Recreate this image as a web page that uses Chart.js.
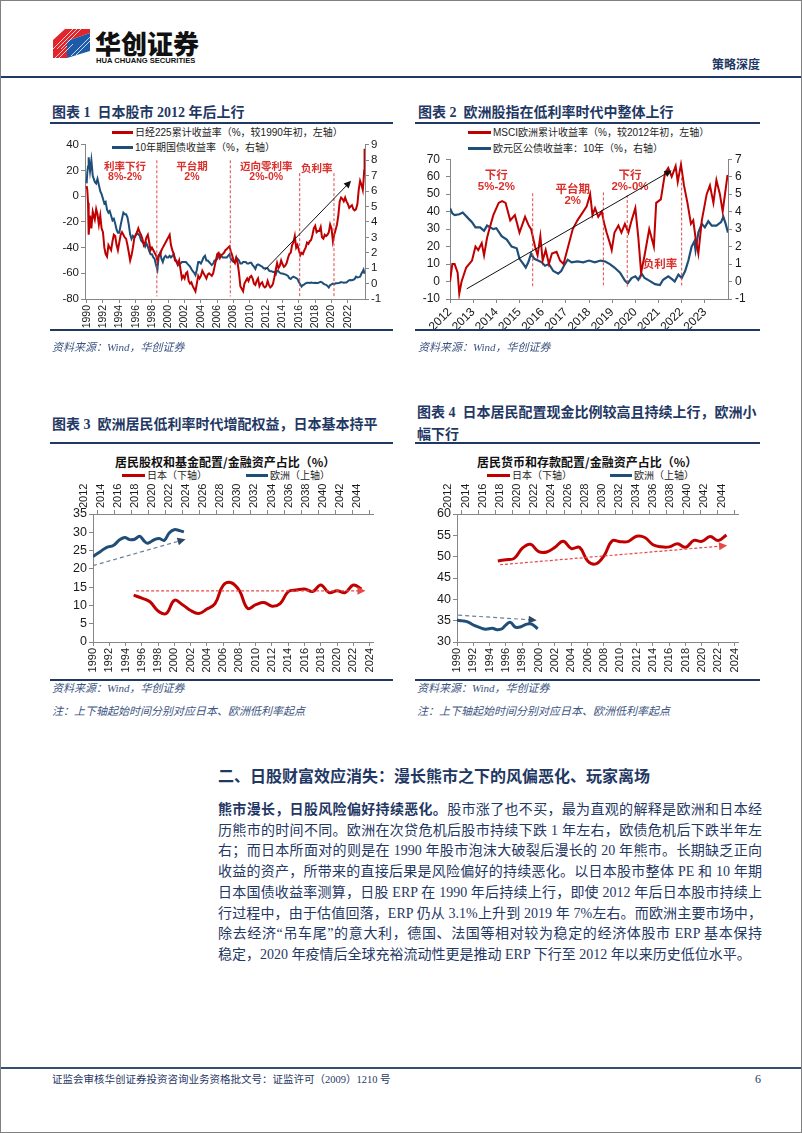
<!DOCTYPE html>
<html>
<head>
<meta charset="utf-8">
<script src="https://cdn.jsdelivr.net/npm/chart.js@4.4.1/dist/chart.umd.min.js"></script>
<style>
html, body { margin: 0; padding: 0; background: #fff; }
#page { position: relative; width: 802px; height: 1133px; overflow: hidden; background: #fff;
  font-family: "Liberation Serif", "Noto Sans CJK SC", serif; color: #1f3864; }
#frame { position: absolute; left: 0; top: 0; width: 800px; height: 1131px; border: 1px solid #808080; }
.abs { position: absolute; white-space: nowrap; }
.rule { position: absolute; background: #1f3864; }
.ttl { position: absolute; white-space: nowrap; font-weight: bold; font-size: 14px; line-height: 18px; color: #1f3864; }
.src { position: absolute; white-space: nowrap; font-style: italic; font-size: 11px; line-height: 14px; color: #3d5582; }
.lg { position: absolute; white-space: nowrap; font-family: "Liberation Sans", "Noto Sans CJK SC", sans-serif; font-size: 10px; line-height: 14px; color: #222; }
.lg i { display: inline-block; width: 21px; height: 3px; vertical-align: middle; margin-right: 2px; position: relative; top: -1px; }
.ctitle { position: absolute; white-space: nowrap; font-family: "Noto Sans CJK SC", sans-serif; font-weight: bold; font-size: 12px; line-height: 16px; color: #111; }
canvas { position: absolute; }
.para { position: absolute; left: 218px; width: 544px; font-size: 14px; line-height: 20px; color: #1f3864;
  white-space: nowrap; text-align: justify; text-align-last: justify; }
.para.last { text-align: left; text-align-last: left; }
</style>
</head>
<body>
<div id="page">
  <div id="frame"></div>

  <!-- header -->
  <svg class="abs" style="left:53px;top:29px" width="38" height="30" viewBox="0 0 38 30">
    <polygon points="0,11 12,0 37,0 37,4 14,12 14,29 0,29" fill="#e0262c"/>
    <polygon points="14,12 37,4 37,22 14,29" fill="#1d5aa8"/>
    <g stroke="#fff" stroke-width="0.9" opacity="0.85">
      <line x1="2" y1="29" x2="14" y2="17"/><line x1="6" y1="29" x2="20" y2="15"/>
      <line x1="0" y1="20" x2="20" y2="0"/><line x1="4" y1="20" x2="24" y2="0"/>
      <line x1="8" y1="20" x2="28" y2="0"/><line x1="18" y1="27" x2="37" y2="8"/>
      <line x1="23" y1="26" x2="37" y2="12"/>
    </g>
  </svg>
  <div class="abs" style="left:95px;top:29px;font-family:'Noto Sans CJK SC',sans-serif;font-weight:900;font-size:26px;line-height:28px;color:#111;">华创证券</div>
  <div class="abs" style="left:96px;top:56px;font-family:'Liberation Sans',sans-serif;font-weight:bold;font-size:7.6px;line-height:9px;color:#111;">HUA CHUANG SECURITIES</div>
  <div class="abs" style="left:712px;top:56px;font-family:'Noto Sans CJK SC',sans-serif;font-weight:bold;font-size:12px;line-height:16px;color:#1f3864;">策略深度</div>
  <div class="rule" style="left:1px;top:76px;width:800px;height:2px;"></div>

  <!-- chart 1 -->
  <div class="ttl" style="left:52px;top:104px">图表 1&nbsp;&nbsp;日本股市 2012 年后上行</div>
  <div class="rule" style="left:50px;top:122px;width:343px;height:1.5px;"></div>
  <div class="lg" style="left:112px;top:126px"><i style="background:#c00000"></i>日经225累计收益率（%，较1990年初，左轴）</div>
  <div class="lg" style="left:112px;top:141px"><i style="background:#1f4e79"></i>10年期国债收益率（%，右轴）</div>
  <canvas id="c1" width="350" height="198" style="left:40px;top:136px"></canvas>
  <div class="rule" style="left:50px;top:329px;width:343px;height:1.5px;"></div>
  <div class="src" style="left:52px;top:340px">资料来源：Wind，华创证券</div>

  <!-- chart 2 -->
  <div class="ttl" style="left:418px;top:104px">图表 2&nbsp;&nbsp;欧洲股指在低利率时代中整体上行</div>
  <div class="rule" style="left:415px;top:122px;width:345px;height:1.5px;"></div>
  <div class="lg" style="left:468px;top:126px"><i style="background:#c00000;width:23px"></i>MSCI欧洲累计收益率（%，较2012年初，左轴）</div>
  <div class="lg" style="left:468px;top:142px"><i style="background:#1f4e79;width:23px"></i>欧元区公债收益率：10年（%，右轴）</div>
  <canvas id="c2" width="350" height="190" style="left:405px;top:146px"></canvas>
  <div class="rule" style="left:415px;top:329px;width:345px;height:1.5px;"></div>
  <div class="src" style="left:418px;top:340px">资料来源：Wind，华创证券</div>

  <!-- chart 3 -->
  <div class="ttl" style="left:52px;top:416px">图表 3&nbsp;&nbsp;欧洲居民低利率时代增配权益，日本基本持平</div>
  <div class="rule" style="left:50px;top:442px;width:343px;height:1.5px;"></div>
  <div class="ctitle" style="left:115px;top:454px">居民股权和基金配置/金融资产占比（%）</div>
  <div class="lg" style="left:122px;top:469px"><i style="background:#c00000;width:23px"></i>日本（下轴）</div>
  <div class="lg" style="left:246px;top:469px"><i style="background:#1f4e79;width:22px"></i>欧洲（上轴）</div>
  <canvas id="c3" width="345" height="195" style="left:40px;top:480px"></canvas>
  <div class="rule" style="left:50px;top:679px;width:343px;height:1.5px;"></div>
  <div class="src" style="left:52px;top:681px">资料来源：Wind，华创证券</div>
  <div class="src" style="left:52px;top:704px">注：上下轴起始时间分别对应日本、欧洲低利率起点</div>

  <!-- chart 4 -->
  <div class="ttl" style="left:417px;top:404px">图表 4&nbsp;&nbsp;日本居民配置现金比例较高且持续上行，欧洲小</div>
  <div class="ttl" style="left:417px;top:426px">幅下行</div>
  <div class="rule" style="left:415px;top:442px;width:345px;height:1.5px;"></div>
  <div class="ctitle" style="left:477px;top:454px">居民货币和存款配置/金融资产占比（%）</div>
  <div class="lg" style="left:487px;top:469px"><i style="background:#c00000;width:23px"></i>日本（下轴）</div>
  <div class="lg" style="left:610px;top:469px"><i style="background:#1f4e79;width:22px"></i>欧洲（上轴）</div>
  <canvas id="c4" width="345" height="195" style="left:405px;top:480px"></canvas>
  <div class="rule" style="left:415px;top:679px;width:345px;height:1.5px;"></div>
  <div class="src" style="left:417px;top:681px">资料来源：Wind，华创证券</div>
  <div class="src" style="left:417px;top:704px">注：上下轴起始时间分别对应日本、欧洲低利率起点</div>

  <!-- body text -->
  <div class="abs" style="left:218px;top:767px;font-weight:bold;font-size:16px;line-height:20px;color:#1f3864;">二、日股财富效应消失：漫长熊市之下的风偏恶化、玩家离场</div>
  <div class="para" style="top:800px"><b>熊市漫长，日股风险偏好持续恶化。</b>股市涨了也不买，最为直观的解释是欧洲和日本经</div>
  <div class="para" style="top:820.7px">历熊市的时间不同。欧洲在次贷危机后股市持续下跌 1 年左右，欧债危机后下跌半年左</div>
  <div class="para" style="top:841.4px">右；而日本所面对的则是在 1990 年股市泡沫大破裂后漫长的 20 年熊市。长期缺乏正向</div>
  <div class="para" style="top:862.1px">收益的资产，所带来的直接后果是风险偏好的持续恶化。以日本股市整体 PE 和 10 年期</div>
  <div class="para" style="top:882.8px">日本国债收益率测算，日股 ERP 在 1990 年后持续上行，即使 2012 年后日本股市持续上</div>
  <div class="para" style="top:903.5px">行过程中，由于估值回落，ERP 仍从 3.1%上升到 2019 年 7%左右。而欧洲主要市场中，</div>
  <div class="para" style="top:924.2px">除去经济“吊车尾”的意大利，德国、法国等相对较为稳定的经济体股市 ERP 基本保持</div>
  <div class="para last" style="top:944.9px">稳定，2020 年疫情后全球充裕流动性更是推动 ERP 下行至 2012 年以来历史低位水平。</div>

  <!-- footer -->
  <div class="rule" style="left:1px;top:1067px;width:800px;height:2px;background:#34506f"></div>
  <div class="abs" style="left:52px;top:1073px;font-size:10.5px;line-height:14px;color:#1f3864;">证监会审核华创证券投资咨询业务资格批文号：证监许可（2009）1210 号</div>
  <div class="abs" style="left:755px;top:1072px;font-size:12px;line-height:14px;color:#1f3864;">6</div>
</div>

<script>
// ---------- chart 1: Nikkei cumulative return vs JGB 10y ----------
const C1_YEARS = [
  1990.00, 1990.08, 1990.17, 1990.25, 1990.42, 1990.58, 1990.75, 1991.00, 1991.17, 1991.33, 1991.50, 1991.67, 1991.83,
  1992.00, 1992.17, 1992.33, 1992.50, 1992.67, 1992.83, 1993.00, 1993.17, 1993.33, 1993.50, 1993.67, 1993.83,
  1994.00, 1994.17, 1994.33, 1994.50, 1994.67, 1994.83, 1995.00, 1995.17, 1995.33, 1995.50, 1995.67, 1995.83,
  1996.00, 1996.17, 1996.33, 1996.50, 1996.67, 1996.83, 1997.00, 1997.17, 1997.33, 1997.50, 1997.67, 1997.83,
  1998.00, 1998.17, 1998.33, 1998.50, 1998.67, 1998.83, 1999.00, 1999.17, 1999.33, 1999.50, 1999.67, 1999.83,
  2000.00, 2000.17, 2000.33, 2000.50, 2000.67, 2000.83, 2001.00, 2001.17, 2001.33, 2001.50, 2001.67, 2001.83,
  2002.00, 2002.17, 2002.33, 2002.50, 2002.67, 2002.83, 2003.00, 2003.17, 2003.33, 2003.50, 2003.67, 2003.83,
  2004.00, 2004.17, 2004.33, 2004.50, 2004.67, 2004.83, 2005.00, 2005.17, 2005.33, 2005.50, 2005.67, 2005.83,
  2006.00, 2006.17, 2006.33, 2006.50, 2006.67, 2006.83, 2007.00, 2007.17, 2007.33, 2007.50, 2007.67, 2007.83,
  2008.00, 2008.17, 2008.33, 2008.50, 2008.67, 2008.83, 2009.00, 2009.17, 2009.33, 2009.50, 2009.67, 2009.83,
  2010.00, 2010.17, 2010.33, 2010.50, 2010.67, 2010.83, 2011.00, 2011.17, 2011.33, 2011.50, 2011.67, 2011.83,
  2012.00, 2012.17, 2012.33, 2012.50, 2012.67, 2012.83, 2013.00, 2013.17, 2013.33, 2013.50, 2013.67, 2013.83,
  2014.00, 2014.17, 2014.33, 2014.50, 2014.67, 2014.83, 2015.00, 2015.17, 2015.33, 2015.50, 2015.67, 2015.83,
  2016.00, 2016.17, 2016.33, 2016.50, 2016.67, 2016.83, 2017.00, 2017.17, 2017.33, 2017.50, 2017.67, 2017.83,
  2018.00, 2018.17, 2018.33, 2018.50, 2018.67, 2018.83, 2019.00, 2019.17, 2019.33, 2019.50, 2019.67, 2019.83,
  2020.00, 2020.17, 2020.33, 2020.50, 2020.67, 2020.83, 2021.00, 2021.17, 2021.33, 2021.50, 2021.67, 2021.83,
  2022.00, 2022.17, 2022.33, 2022.50, 2022.67, 2022.83, 2023.00, 2023.17, 2023.33, 2023.50, 2023.67, 2023.83,
  2023.92, 2024.00, 2024.05
];
const C1_NIKKEI = [
  8, 5, -5, -30, -15, -25, -12, -18, -10, -14, -22, -15, -25,
  -28, -40, -45, -47, -38, -40, -42, -35, -30, -31, -38, -42,
  -36, -30, -28, -30, -32, -33, -38, -44, -50, -46, -40, -33,
  -30, -28, -25, -28, -30, -33, -38, -36, -32, -30, -36, -42,
  -40, -42, -44, -46, -50, -46, -46, -42, -40, -38, -36, -34,
  -32, -30, -38, -42, -45, -50, -51, -53, -50, -57, -64, -62,
  -64, -60, -59, -66, -68, -67, -70, -72, -74, -68, -62, -64,
  -62, -58, -60, -62, -64, -61, -60, -61, -62, -60, -55, -50,
  -45, -44, -48, -46, -45, -44, -42, -41, -40, -39, -43, -46,
  -50, -52, -48, -52, -60, -70, -72, -74, -68, -66, -64, -66,
  -63, -62, -64, -68, -69, -66, -64, -70, -68, -67, -70, -71,
  -70, -66, -69, -71, -70, -68, -63, -57, -52, -56, -54, -50,
  -53, -55, -54, -52, -48, -45, -44, -38, -36, -31, -40, -38,
  -42, -46, -44, -45, -42, -40, -36, -37, -35, -34, -30, -25,
  -23, -28, -27, -27, -24, -32, -33, -30, -31, -30, -28, -22,
  -25, -35, -30, -26, -22, -15, -4, -1, -2, -4, -1, -4,
  -6, -9, -8, -7, -10, -11, -10, -6, 5, 12, 9, 5,
  12, 20, 37
];
const C1_JGB = [
  6.5, 7.2, 7.6, 8.2, 7.3, 8.0, 7.0, 6.6, 6.5, 6.8, 6.4, 6.0, 5.8,
  5.5, 5.2, 5.3, 4.8, 4.6, 4.7, 4.4, 4.1, 4.2, 3.9, 3.5, 3.3,
  3.3, 3.8, 4.2, 4.6, 4.5, 4.5, 4.3, 3.8, 3.2, 2.9, 3.1, 3.0,
  3.1, 3.3, 3.2, 3.1, 2.8, 2.7, 2.6, 2.4, 2.6, 2.4, 2.1, 1.9,
  1.9, 1.7, 1.6, 1.2, 0.9, 1.8, 2.0, 1.6, 1.4, 1.7, 1.8, 1.7,
  1.7, 1.8, 1.7, 1.8, 1.9, 1.6, 1.5, 1.2, 1.3, 1.3, 1.4, 1.4,
  1.4, 1.4, 1.3, 1.2, 1.1, 0.95, 0.8, 0.7, 0.55, 0.9, 1.4, 1.4,
  1.3, 1.5, 1.7, 1.8, 1.5, 1.5, 1.4, 1.3, 1.2, 1.3, 1.5, 1.5,
  1.6, 1.8, 1.9, 1.8, 1.7, 1.7, 1.7, 1.7, 1.8, 1.9, 1.6, 1.5,
  1.4, 1.4, 1.7, 1.6, 1.5, 1.3, 1.3, 1.4, 1.4, 1.4, 1.3, 1.3,
  1.35, 1.35, 1.2, 1.1, 0.95, 1.2, 1.25, 1.2, 1.15, 1.1, 1.0, 1.0,
  1.0, 1.0, 0.85, 0.8, 0.8, 0.75, 0.75, 0.6, 0.85, 0.8, 0.7, 0.65,
  0.65, 0.62, 0.6, 0.55, 0.5, 0.35, 0.3, 0.4, 0.45, 0.4, 0.35, 0.3,
  0.1, -0.05, -0.2, -0.1, -0.05, 0.02, 0.05, 0.06, 0.04, 0.07, 0.05, 0.04,
  0.06, 0.04, 0.04, 0.08, 0.12, 0.08, 0.0, -0.05, -0.08, -0.15, -0.25, -0.1,
  -0.05, 0.0, -0.03, 0.02, 0.02, 0.03, 0.05, 0.1, 0.08, 0.05, 0.07, 0.07,
  0.15, 0.22, 0.23, 0.22, 0.25, 0.3, 0.45, 0.4, 0.42, 0.45, 0.65, 0.8,
  0.9, 0.7, 0.8
];
const C1_XTICKS = [1990, 1992, 1994, 1996, 1998, 2000, 2002, 2004, 2006, 2008, 2010, 2012, 2014, 2016, 2018, 2020, 2022];
const C1_PHASE_X = [1998.6, 2007.6, 2016.1, 2020.3];
const C1_PHASE_TOP = [28, 28, 18, 18];
const C1_PHASE_TEXT = [['利率下行', '8%-2%'], ['平台期', '2%'], ['迈向零利率', '2%-0%'], ['负利率']];
const C1_PHASE_TEXT_X = [1994.7, 2002.9, 2012.0, 2018.2];
const C1_PHASE_TEXT_Y = [23, 23, 23, 21];
const C1_ARROW = [[2011.8, -57.6], [2022.4, 12]];

// ---------- chart 2: MSCI Europe vs euro area 10y ----------
const C2_MSCI_YEARS = [
  2012.0, 2012.1, 2012.2, 2012.33, 2012.4, 2012.5, 2012.7, 2012.95,
  2013.1, 2013.22, 2013.37, 2013.47, 2013.6, 2013.7, 2013.87,
  2014.1, 2014.25, 2014.4, 2014.6, 2014.8,
  2015.0, 2015.24, 2015.4, 2015.5, 2015.67, 2015.78, 2015.9,
  2016.0, 2016.13, 2016.27, 2016.4, 2016.6, 2016.75, 2016.9,
  2017.1, 2017.3, 2017.5, 2017.75, 2017.9,
  2018.05, 2018.15, 2018.26, 2018.4, 2018.55, 2018.66, 2018.76, 2018.9, 2018.98,
  2019.1, 2019.27, 2019.4, 2019.55, 2019.7, 2019.84,
  2020.0, 2020.13, 2020.25, 2020.4, 2020.6, 2020.8, 2020.9,
  2021.1, 2021.28, 2021.42, 2021.57, 2021.74, 2021.83, 2021.97,
  2022.1, 2022.25, 2022.4, 2022.5, 2022.6, 2022.72, 2022.87,
  2023.08, 2023.22, 2023.37, 2023.5, 2023.65, 2023.77, 2023.87, 2023.98
];
const C2_MSCI = [
  0, 10, 10, 5, -7, 0, 8, 12,
  20, 18, 22, 15, 25, 30, 38,
  45, 46, 45, 35, 38,
  28, 37, 32, 30, 20, 15, 26,
  12, 18, 10, 16, 17, 12, 10,
  20, 30, 35, 40, 43,
  50, 38, 42, 37, 40, 33, 28, 22, 18,
  28, 32, 28, 33, 28, 35,
  42, 25, 5, 15, 30, 20, 45,
  47, 62, 65, 60, 66, 57, 67,
  55, 45, 33, 35, 25, 16, 35,
  50, 55, 45, 58, 50, 40, 50, 61
];
const C2_BUND_YEARS = [
  2012.0, 2012.1, 2012.2, 2012.4, 2012.55, 2012.8, 2012.95,
  2013.1, 2013.3, 2013.47, 2013.6, 2013.87,
  2014.0, 2014.23, 2014.45, 2014.66, 2014.88,
  2015.0, 2015.17, 2015.27, 2015.38, 2015.5, 2015.64, 2015.8, 2015.96,
  2016.1, 2016.27, 2016.46, 2016.67, 2016.8, 2016.96,
  2017.08, 2017.25, 2017.5, 2017.75,
  2018.0, 2018.25, 2018.5, 2018.7, 2018.9,
  2019.1, 2019.34, 2019.55, 2019.67, 2019.84,
  2020.0, 2020.13, 2020.27, 2020.4, 2020.6, 2020.85,
  2021.06, 2021.2, 2021.42, 2021.57, 2021.7, 2021.86,
  2022.0, 2022.15, 2022.29, 2022.43, 2022.55, 2022.6, 2022.72, 2022.87,
  2023.0, 2023.15, 2023.3, 2023.5, 2023.7, 2023.8, 2023.9, 2024.0
];
const C2_BUND = [
  4.2, 3.9, 3.8, 3.85, 3.95, 3.6, 3.4,
  3.1, 3.1, 2.9, 3.2, 3.0,
  3.05, 2.6, 2.4, 2.0, 1.9,
  1.3, 1.0, 0.8, 1.1, 1.6, 1.3, 1.2, 1.1,
  0.9, 1.0, 0.6, 0.45, 0.6, 1.0,
  1.25, 1.1, 1.15, 1.1,
  1.2, 1.1, 1.2, 1.15, 1.0,
  0.8, 0.5, 0.05, -0.1, 0.2,
  0.3, 0.1, 0.45, 0.2, 0.05, -0.15,
  -0.2, 0.1, 0.3, 0.15, 0.0, 0.4,
  0.2, 0.6, 1.2, 2.0, 2.3, 1.8, 2.8, 3.3,
  3.1, 3.45, 3.2, 3.2, 3.4, 3.7, 3.3, 2.8
];
const C2_XTICKS = [2012, 2013, 2014, 2015, 2016, 2017, 2018, 2019, 2020, 2021, 2022, 2023];
const C2_PHASE_X = [2015.57, 2018.62, 2019.65, 2022.0];
const C2_PHASE_TOP = [50.5, 51, 49.5, 59.5];
const C2_PHASE_TEXT = [['下行', '5%-2%'], ['平台期', '2%'], ['下行', '2%-0%'], ['负利率']];
const C2_PHASE_TEXT_X = [2014.0, 2017.3, 2019.77, 2021.06];
const C2_PHASE_TEXT_Y = [60.4, 52.2, 60.4, 9.5];
const C2_ARROW = [[2012.72, -4.2], [2021.57, 63.6]];

// ---------- charts 3 & 4: household allocation, Japan (bottom axis) vs Europe (top axis) ----------
const JP_YEARS = [1995, 1996, 1997, 1998, 1999, 2000, 2001, 2002, 2003, 2004, 2005, 2006, 2007, 2008, 2009,
  2010, 2011, 2012, 2013, 2014, 2015, 2016, 2017, 2018, 2019, 2020, 2021, 2022, 2023];
const C3_JP_EQUITY = [12.8, 12.0, 11.0, 8.5, 7.8, 11.4, 10.2, 8.6, 7.8, 9.0, 10.5, 15.5, 16.2, 14.0, 9.2,
  10.2, 10.8, 9.8, 10.5, 13.8, 14.2, 14.5, 13.8, 15.6, 13.5, 14.0, 13.5, 15.6, 14.5];
const C3_EU_YEARS = [2011.46, 2012.31, 2013.08, 2013.85, 2014.63, 2015.2, 2015.78, 2016.36, 2016.94,
  2017.52, 2017.9, 2018.68, 2019.26, 2019.84, 2020.42, 2021.0, 2021.58, 2022.15];
const C3_EU_EQUITY = [23.4, 24.7, 25.9, 26.4, 28.0, 28.6, 28.0, 28.1, 28.9,
  27.5, 27.0, 28.0, 28.3, 27.8, 29.8, 30.7, 30.5, 30.1];
const C3_EU_TREND = [[2011.46, 20.9], [2022.35, 28.1]];
const C3_JP_TREND = [[1995.3, 14.0], [2023.5, 14.0]];

const C4_JP_CASH = [49.0, 49.3, 49.6, 52.0, 52.9, 51.2, 51.1, 52.2, 53.6, 51.9, 52.2, 49.0, 48.3, 50.2, 53.7,
  53.5, 53.6, 54.8, 54.5, 52.8, 52.3, 52.3, 53.0, 52.2, 53.8, 53.6, 54.7, 53.8, 55.1];
const C4_EU_YEARS = [2011.46, 2012.12, 2012.7, 2013.47, 2014.24, 2014.82, 2015.59, 2016.17, 2016.75,
  2017.14, 2017.71, 2018.29, 2018.87, 2019.65, 2020.22, 2020.92];
const C4_EU_CASH = [35.1, 34.95, 34.7, 33.9, 33.3, 33.0, 33.2, 32.9, 33.1,
  33.9, 34.6, 33.5, 33.5, 34.2, 34.2, 33.1];
const C4_EU_TREND = [[2011.6, 36.3], [2020.8, 35.1]];
const C4_JP_TREND = [[1995.26, 48.1], [2023.08, 52.6]];

const BOTTOM_YEARS = [1990, 1992, 1994, 1996, 1998, 2000, 2002, 2004, 2006, 2008, 2010, 2012, 2014, 2016, 2018, 2020, 2022, 2024];
const TOP_YEARS = [2012, 2014, 2016, 2018, 2020, 2022, 2024, 2026, 2028, 2030, 2032, 2034, 2036, 2038, 2040, 2042, 2044];

const RED = '#c00000';
const BLUE = '#1f4e79';
const AXIS = '#868686';
const NOTE_RED = '#d9302c';

// draws phase lines, red notes and arrows in data units through the chart scales
const marksPlugin = {
  id: 'marks',
  afterDatasetsDraw(chart, args, opts) {
    const ctx = chart.ctx;
    (opts.vlines || []).forEach((v) => {
      const xs = chart.scales.x, ys = chart.scales.y;
      const px = xs.getPixelForValue(v.x);
      ctx.save();
      ctx.strokeStyle = '#e04848';
      ctx.lineWidth = 1;
      ctx.setLineDash([3, 2]);
      ctx.beginPath();
      ctx.moveTo(px, ys.getPixelForValue(v.top));
      ctx.lineTo(px, ys.getPixelForValue(v.bottom));
      ctx.stroke();
      ctx.restore();
    });
    (opts.notes || []).forEach((n) => {
      const px = chart.scales.x.getPixelForValue(n.x);
      const py = chart.scales.y.getPixelForValue(n.y);
      ctx.save();
      ctx.fillStyle = NOTE_RED;
      ctx.font = `bold ${opts.noteSize}px "Liberation Sans", "Noto Sans CJK SC", sans-serif`;
      ctx.textAlign = 'center';
      ctx.textBaseline = 'middle';
      n.lines.forEach((t, i) => ctx.fillText(t, px, py + i * opts.noteGap));
      ctx.restore();
    });
    (opts.arrows || []).forEach((a) => {
      const xs = chart.scales[a.xAxis || 'x'], ys = chart.scales[a.yAxis || 'y'];
      const x1 = xs.getPixelForValue(a.pts[0][0]), y1 = ys.getPixelForValue(a.pts[0][1]);
      const x2 = xs.getPixelForValue(a.pts[1][0]), y2 = ys.getPixelForValue(a.pts[1][1]);
      const ang = Math.atan2(y2 - y1, x2 - x1);
      const h = a.head || 7;
      ctx.save();
      ctx.strokeStyle = a.color;
      ctx.lineWidth = a.width || 1;
      ctx.setLineDash(a.dash || []);
      ctx.beginPath();
      ctx.moveTo(x1, y1);
      ctx.lineTo(x2 - Math.cos(ang) * h * 0.7, y2 - Math.sin(ang) * h * 0.7);
      ctx.stroke();
      ctx.setLineDash([]);
      ctx.fillStyle = a.headColor || a.color;
      ctx.beginPath();
      ctx.moveTo(x2, y2);
      ctx.lineTo(x2 - h * Math.cos(ang - 0.45), y2 - h * Math.sin(ang - 0.45));
      ctx.lineTo(x2 - h * Math.cos(ang + 0.45), y2 - h * Math.sin(ang + 0.45));
      ctx.closePath();
      ctx.fill();
      ctx.restore();
    });
  },
};
Chart.register(marksPlugin);
Chart.defaults.font.family = '"Liberation Sans", Arial, sans-serif';
Chart.defaults.color = '#1a1a1a';

const pts = (xs, ys) => xs.map((x, i) => ({ x, y: ys[i] }));
const fixedTicks = (list) => (s) => { s.ticks = list.map((v) => ({ value: v })); };

function yAxis(pos, min, max, step, width, size, pad) {
  return {
    type: 'linear', position: pos, min, max,
    ticks: { stepSize: step, autoSkip: false, font: { size }, padding: pad, color: '#1a1a1a' },
    grid: { drawOnChartArea: false, drawTicks: true, tickLength: 4, color: AXIS },
    border: { display: true, color: AXIS },
    afterFit: (s) => { s.width = width; },
  };
}
function xAxis(pos, min, max, ticks, rot, height, size) {
  return {
    type: 'linear', position: pos, min, max,
    afterBuildTicks: fixedTicks(ticks),
    ticks: { autoSkip: false, minRotation: rot, maxRotation: rot, font: { size }, padding: 2,
      color: '#1a1a1a', callback: (v) => String(v) },
    grid: { drawOnChartArea: false, drawTicks: true, tickLength: 4, color: AXIS },
    border: { display: true, color: AXIS },
    afterFit: (s) => { s.height = height; },
  };
}
function phaseMarks(xs, tops, bottom, texts, tx, ty, size, gap, arrow) {
  return {
    vlines: xs.map((x, i) => ({ x, top: tops[i], bottom })),
    notes: texts.map((lines, i) => ({ x: tx[i], y: ty[i], lines })),
    noteSize: size, noteGap: gap,
    arrows: [{ pts: arrow, color: '#111', width: 1, head: 8 }],
  };
}
const base = {
  responsive: false, animation: false, devicePixelRatio: 1,
  elements: { point: { radius: 0 } },
  plugins: { legend: { display: false }, tooltip: { enabled: false } },
};

// chart 1
new Chart(document.getElementById('c1'), {
  type: 'line',
  data: { datasets: [
    { data: pts(C1_YEARS, C1_NIKKEI), borderColor: RED, borderWidth: 2, yAxisID: 'y', tension: 0 },
    { data: pts(C1_YEARS, C1_JGB), borderColor: BLUE, borderWidth: 2, yAxisID: 'y1', tension: 0 },
  ] },
  options: { ...base,
    layout: { padding: { top: 6 } },
    scales: {
      x: xAxis('bottom', 1989.8, 2024.1, C1_XTICKS, 90, 35, 10.5),
      y: yAxis('left', -80, 40, 20, 45, 11.5, 2),
      y1: yAxis('right', -1, 9, 1, 25, 11.5, 2),
    },
    plugins: { ...base.plugins,
      marks: phaseMarks(C1_PHASE_X, C1_PHASE_TOP, -78, C1_PHASE_TEXT, C1_PHASE_TEXT_X, C1_PHASE_TEXT_Y, 10.5, 10.5, C1_ARROW) },
  },
});

// chart 2
new Chart(document.getElementById('c2'), {
  type: 'line',
  data: { datasets: [
    { data: pts(C2_MSCI_YEARS, C2_MSCI), borderColor: RED, borderWidth: 2, yAxisID: 'y', tension: 0 },
    { data: pts(C2_BUND_YEARS, C2_BUND), borderColor: BLUE, borderWidth: 2.2, yAxisID: 'y1', tension: 0 },
  ] },
  options: { ...base,
    layout: { padding: { top: 6 } },
    scales: {
      x: xAxis('bottom', 2012, 2024, C2_XTICKS, 45, 37, 12),
      y: yAxis('left', -10, 70, 10, 45, 12, 6),
      y1: yAxis('right', -1, 7, 1, 27, 12, 3),
    },
    plugins: { ...base.plugins,
      marks: phaseMarks(C2_PHASE_X, C2_PHASE_TOP, -3, C2_PHASE_TEXT, C2_PHASE_TEXT_X, C2_PHASE_TEXT_Y, 11.5, 11, C2_ARROW) },
  },
});

// charts 3 & 4 share the dual time axes
function allocChart(id, jp, euYears, eu, yMin, yMax, euTrend, jpTrend, leftWidth) {
  new Chart(document.getElementById(id), {
    type: 'line',
    data: { datasets: [
      { data: pts(JP_YEARS, jp), borderColor: RED, borderWidth: 3, xAxisID: 'x', tension: 0.4 },
      { data: pts(euYears, eu), borderColor: BLUE, borderWidth: 3, xAxisID: 'x2', tension: 0.4 },
    ] },
    options: { ...base,
      layout: { padding: { right: 7 } },
      scales: {
        x: xAxis('bottom', 1990, 2024.5, BOTTOM_YEARS, 90, 33, 11),
        x2: xAxis('top', 2011.46, 2044.47, TOP_YEARS, 90, 34, 11),
        y: yAxis('left', yMin, yMax, 5, leftWidth, 12.5, 2),
      },
      plugins: { ...base.plugins,
        marks: { arrows: [
          { pts: euTrend, xAxis: 'x2', color: '#6b7f99', headColor: '#2f4766', dash: [4, 3], width: 1.2, head: 9 },
          { pts: jpTrend, xAxis: 'x', color: '#e84848', dash: [3, 2], width: 1.2, head: 9 },
        ] } },
    },
  });
}
allocChart('c3', C3_JP_EQUITY, C3_EU_YEARS, C3_EU_EQUITY, 0, 35, C3_EU_TREND, C3_JP_TREND, 53);
allocChart('c4', C4_JP_CASH, C4_EU_YEARS, C4_EU_CASH, 30, 60, C4_EU_TREND, C4_JP_TREND, 52);
</script>
</body>
</html>
